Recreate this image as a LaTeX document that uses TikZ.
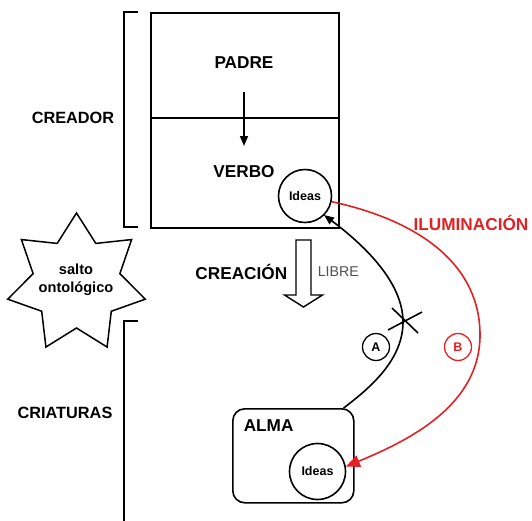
\documentclass[tikz,border=0pt]{standalone}
\usepackage{fontspec}
\setmainfont{Liberation Sans}
\usetikzlibrary{arrows.meta,calc}
\definecolor{illum}{RGB}{228,32,36}
\definecolor{softgray}{RGB}{80,80,80}
\begin{document}
\begin{tikzpicture}[x=1pt,y=-1pt,line width=1.6pt,line join=miter,
  lbl/.style={font=\fontsize{16.3}{19}\selectfont\bfseries,inner sep=0pt},
  biglbl/.style={font=\fontsize{17.2}{20}\selectfont\bfseries,inner sep=0pt},
  idea/.style={circle,draw,inner sep=0pt,font=\fontsize{12.5}{14}\selectfont\bfseries},
  tag/.style={circle,draw,line width=1.3pt,inner sep=0pt,minimum size=27pt,font=\fontsize{12.5}{14}\selectfont\bfseries},
  tip/.style={-{Triangle[length=10pt,width=8pt]}},
  redtip/.style={-{Triangle[length=14pt,width=12pt]}}]
\useasboundingbox (0,0) rectangle (532,520);

% creator block
\node[draw,rectangle,inner sep=0pt,minimum width=188pt,minimum height=215pt,anchor=north west] (creator) at (150,12) {};
\draw (creator.west |- 0,118) -- (creator.east |- 0,118);
\node[biglbl] (padre) at (244,63) {PADRE};
\node[biglbl] (verbo) at (244,172) {VERBO};
\draw[tip] ($(padre)+(0,29)$) -- ($(verbo)+(0,-26)$);
\node[idea,minimum size=53pt] (ideasV) at (305,196) {Ideas};

% brackets
\coordinate (bracketTop) at (124,12);
\coordinate (bracketBot) at (124,227);
\draw ($(bracketTop)+(14,0)$) -- (bracketTop) -- (bracketBot) -- ($(bracketBot)+(14,0)$);
\node[lbl] (creador) at (73,118) {CREADOR};
\coordinate (lowBracket) at (124,321);
\draw ($(lowBracket)+(14,0)$) -- (lowBracket) -- (124,522);
\node[lbl] (criaturas) at (65,413) {CRIATURAS};

% seven-pointed star
\coordinate (starC) at (76.5,283.5);
\draw[line width=1.5pt] (starC) ++(90:70.5pt)
  \foreach \i in {1,...,13} {
    -- ($(starC)+({90+\i*360/14}:{mod(\i,2)==0 ? 70.5pt : 44.5pt})$)
  } -- cycle;
\node[align=center,inner sep=0pt,font=\fontsize{14.6}{18}\selectfont\bfseries] (salto) at (76,280) {salto\\ontológico};

% free creation arrow
\node[biglbl,anchor=east] (creacion) at (288,272) {CREACIÓN};
\node[inner sep=0pt,anchor=west,text=softgray,font=\fontsize{14.2}{16}\selectfont] (libre) at (317,272) {LIBRE};
\coordinate (flow) at (303.5,240);
\draw[line width=1.4pt] ($(flow)+(-7.5,0)$) -- ($(flow)+(7.5,0)$) -- ($(flow)+(7.5,55)$) -- ($(flow)+(19,55)$)
  -- ($(flow)+(0,67)$) -- ($(flow)+(-19,55)$) -- ($(flow)+(-7.5,55)$) -- cycle;

% soul
\node[draw,rounded corners=12pt,inner sep=0pt,minimum width=121pt,minimum height=94pt,anchor=north west] (alma) at (232,408) {};
\node[biglbl,anchor=west] (almaT) at (243,426) {ALMA};
\node[idea,minimum size=56pt] (ideasA) at (317.5,471.5) {Ideas};

% path A (blocked)
\coordinate (cut) at (403,322);
\draw ($(alma.north east)+(-11,0)$) .. controls (370,388) and (403,360) .. (cut);
\draw[tip] (cut) .. controls (403,282) and (364,245) .. ($(ideasV)+(19,19)$);
\draw ($(cut)+(-15,8)$) -- ($(cut)+(19,-10)$);
\draw ($(cut)+(-11,-14)$) -- ($(cut)+(15,11)$);
\node[tag] (tagA) at (376,347) {A};

% path B (illumination)
\coordinate (bend) at (480,335);
\draw[illum] (ideasV.-12) .. controls (425,222) and (480,268) .. (bend);
\draw[illum,redtip] (bend) .. controls (480,405) and (410,440) .. (ideasA.10);
\node[tag,draw=illum,text=illum] (tagB) at (458,347) {B};
\node[biglbl,text=illum] (ilum) at (471,223) {ILUMINACIÓN};
\end{tikzpicture}
\end{document}
